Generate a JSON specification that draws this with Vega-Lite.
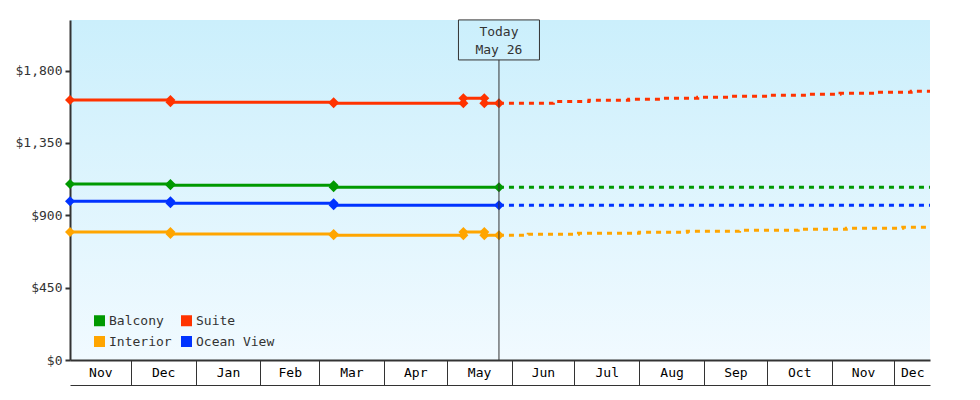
{
  "$schema": "https://vega.github.io/schema/vega-lite/v6.json",
  "description": "Cruise cabin price history and forecast",
  "width": 860,
  "height": 340,
  "autosize": {"type": "none"},
  "padding": {"left": 70, "top": 20, "right": 50, "bottom": 40},
  "background": "white",
  "config": {
    "font": "DejaVu Sans Mono",
    "view": {
      "stroke": null,
      "fill": {
        "gradient": "linear", "x1": 0, "y1": 0, "x2": 0, "y2": 1,
        "stops": [{"offset": 0, "color": "#cbeffc"}, {"offset": 1, "color": "#f1faff"}]
      }
    },
    "axis": {"grid": false, "title": null, "labelFont": "DejaVu Sans Mono", "labelFontSize": 13}
  },
  "datasets": {
    "past": [
      {"type": "Suite", "seq": 1, "date": "2024-11-02", "price": 1618},
      {"type": "Suite", "seq": 2, "date": "2024-12-20", "price": 1618},
      {"type": "Suite", "seq": 3, "date": "2024-12-20", "price": 1603},
      {"type": "Suite", "seq": 4, "date": "2025-03-08", "price": 1603},
      {"type": "Suite", "seq": 5, "date": "2025-03-08", "price": 1597},
      {"type": "Suite", "seq": 6, "date": "2025-05-09", "price": 1597},
      {"type": "Suite", "seq": 7, "date": "2025-05-09", "price": 1628},
      {"type": "Suite", "seq": 8, "date": "2025-05-19", "price": 1628},
      {"type": "Suite", "seq": 9, "date": "2025-05-19", "price": 1597},
      {"type": "Suite", "seq": 10, "date": "2025-05-26", "price": 1597},
      {"type": "Balcony", "seq": 1, "date": "2024-11-02", "price": 1095},
      {"type": "Balcony", "seq": 2, "date": "2024-12-20", "price": 1095},
      {"type": "Balcony", "seq": 3, "date": "2024-12-20", "price": 1087},
      {"type": "Balcony", "seq": 4, "date": "2025-03-08", "price": 1087},
      {"type": "Balcony", "seq": 5, "date": "2025-03-08", "price": 1075},
      {"type": "Balcony", "seq": 6, "date": "2025-05-26", "price": 1075},
      {"type": "Ocean View", "seq": 1, "date": "2024-11-02", "price": 987},
      {"type": "Ocean View", "seq": 2, "date": "2024-12-20", "price": 987},
      {"type": "Ocean View", "seq": 3, "date": "2024-12-20", "price": 975},
      {"type": "Ocean View", "seq": 4, "date": "2025-03-08", "price": 975},
      {"type": "Ocean View", "seq": 5, "date": "2025-03-08", "price": 963},
      {"type": "Ocean View", "seq": 6, "date": "2025-05-26", "price": 963},
      {"type": "Interior", "seq": 1, "date": "2024-11-02", "price": 796},
      {"type": "Interior", "seq": 2, "date": "2024-12-20", "price": 796},
      {"type": "Interior", "seq": 3, "date": "2024-12-20", "price": 784},
      {"type": "Interior", "seq": 4, "date": "2025-03-08", "price": 784},
      {"type": "Interior", "seq": 5, "date": "2025-03-08", "price": 776},
      {"type": "Interior", "seq": 6, "date": "2025-05-09", "price": 776},
      {"type": "Interior", "seq": 7, "date": "2025-05-09", "price": 796},
      {"type": "Interior", "seq": 8, "date": "2025-05-19", "price": 796},
      {"type": "Interior", "seq": 9, "date": "2025-05-19", "price": 776},
      {"type": "Interior", "seq": 10, "date": "2025-05-26", "price": 776}
    ],
    "forecast": [
      {"type": "Suite", "date": "2025-05-26", "price": 1597},
      {"type": "Suite", "date": "2025-06-21", "price": 1608},
      {"type": "Suite", "date": "2025-07-08", "price": 1616},
      {"type": "Suite", "date": "2025-07-27", "price": 1622},
      {"type": "Suite", "date": "2025-08-11", "price": 1628},
      {"type": "Suite", "date": "2025-08-29", "price": 1634},
      {"type": "Suite", "date": "2025-09-14", "price": 1640},
      {"type": "Suite", "date": "2025-10-02", "price": 1647},
      {"type": "Suite", "date": "2025-10-21", "price": 1653},
      {"type": "Suite", "date": "2025-11-05", "price": 1659},
      {"type": "Suite", "date": "2025-11-23", "price": 1665},
      {"type": "Suite", "date": "2025-12-09", "price": 1672},
      {"type": "Suite", "date": "2025-12-18", "price": 1672},
      {"type": "Balcony", "date": "2025-05-26", "price": 1075},
      {"type": "Balcony", "date": "2025-12-18", "price": 1075},
      {"type": "Ocean View", "date": "2025-05-26", "price": 963},
      {"type": "Ocean View", "date": "2025-12-18", "price": 963},
      {"type": "Interior", "date": "2025-05-26", "price": 776},
      {"type": "Interior", "date": "2025-06-09", "price": 782},
      {"type": "Interior", "date": "2025-07-03", "price": 788},
      {"type": "Interior", "date": "2025-08-01", "price": 794},
      {"type": "Interior", "date": "2025-08-24", "price": 801},
      {"type": "Interior", "date": "2025-09-18", "price": 807},
      {"type": "Interior", "date": "2025-10-16", "price": 813},
      {"type": "Interior", "date": "2025-11-08", "price": 819},
      {"type": "Interior", "date": "2025-12-05", "price": 826},
      {"type": "Interior", "date": "2025-12-18", "price": 826}
    ],
    "today": [
      {"date": "2025-05-26", "label": "Today\nMay 26"}
    ]
  },
  "resolve": {"axis": {"x": "independent"}},
  "layer": [
    {
      "data": {"name": "past"},
      "mark": {"type": "point", "shape": "diamond", "filled": true, "size": 100, "opacity": 1},
      "encoding": {
        "x": {
          "field": "date", "type": "temporal",
          "scale": {"type": "utc", "domain": [{"year": 2024, "month": 11, "date": 2, "utc": true}, {"year": 2025, "month": 12, "date": 18, "utc": true}]},
          "axis": {
            "orient": "bottom",
            "labels": false,
            "domainColor": "#333333", "domainWidth": 2,
            "tickColor": "#333333", "tickWidth": 1, "tickSize": 25,
            "values": [
              {"year": 2024, "month": 12, "date": 1, "utc": true},
              {"year": 2025, "month": 1, "date": 1, "utc": true},
              {"year": 2025, "month": 2, "date": 1, "utc": true},
              {"year": 2025, "month": 3, "date": 1, "utc": true},
              {"year": 2025, "month": 4, "date": 1, "utc": true},
              {"year": 2025, "month": 5, "date": 1, "utc": true},
              {"year": 2025, "month": 6, "date": 1, "utc": true},
              {"year": 2025, "month": 7, "date": 1, "utc": true},
              {"year": 2025, "month": 8, "date": 1, "utc": true},
              {"year": 2025, "month": 9, "date": 1, "utc": true},
              {"year": 2025, "month": 10, "date": 1, "utc": true},
              {"year": 2025, "month": 11, "date": 1, "utc": true},
              {"year": 2025, "month": 12, "date": 1, "utc": true}
            ]
          }
        },
        "y": {
          "field": "price", "type": "quantitative",
          "scale": {"domain": [0, 2115], "nice": false},
          "axis": {
            "values": [0, 450, 900, 1350, 1800], "format": "$,.0f",
            "domainColor": "#333333", "domainWidth": 2,
            "tickColor": "#333333", "tickWidth": 2, "tickSize": 5,
            "labelColor": "#333333", "labelPadding": 3
          }
        },
        "color": {
          "field": "type", "type": "nominal",
          "scale": {"domain": ["Balcony", "Suite", "Interior", "Ocean View"], "range": ["#009900", "#ff3300", "#ffa500", "#0033ff"]},
          "legend": {
            "title": null, "orient": "none", "direction": "horizontal", "legendX": 23, "legendY": 294,
            "columns": 2, "columnPadding": 8, "rowPadding": 7,
            "symbolType": "square", "symbolSize": 121, "symbolStrokeWidth": 0,
            "labelFont": "DejaVu Sans Mono", "labelFontSize": 13, "labelColor": "#333333", "labelOffset": 3,
            "encode": {"symbols": {"update": {"fill": {"scale": "color", "field": "value"}, "opacity": {"value": 1}}}}
          }
        },
        "order": {"field": "seq"}
      }
    },
    {
      "data": {"name": "past"},
      "mark": {"type": "line", "strokeWidth": 3},
      "encoding": {
        "x": {"field": "date", "type": "temporal", "axis": null},
        "y": {"field": "price", "type": "quantitative"},
        "color": {"field": "type", "type": "nominal"},
        "order": {"field": "seq"}
      }
    },
    {
      "data": {"name": "forecast"},
      "mark": {"type": "line", "strokeWidth": 3, "strokeDash": [5, 5], "interpolate": "step-after"},
      "encoding": {
        "x": {
          "field": "date", "type": "temporal",
          "axis": {
            "orient": "bottom", "offset": 25,
            "format": "%b", "ticks": false, "tickSize": 0,
            "domainColor": "#333333", "domainWidth": 1,
            "labelColor": "#000000", "labelPadding": -19,
            "labelOverlap": false, "labelFlush": false, "labelBound": false,
            "values": [
              {"year": 2024, "month": 11, "date": 16, "hours": 12, "utc": true},
              {"year": 2024, "month": 12, "date": 16, "hours": 12, "utc": true},
              {"year": 2025, "month": 1, "date": 16, "hours": 12, "utc": true},
              {"year": 2025, "month": 2, "date": 15, "utc": true},
              {"year": 2025, "month": 3, "date": 16, "hours": 12, "utc": true},
              {"year": 2025, "month": 4, "date": 16, "utc": true},
              {"year": 2025, "month": 5, "date": 16, "hours": 12, "utc": true},
              {"year": 2025, "month": 6, "date": 16, "utc": true},
              {"year": 2025, "month": 7, "date": 16, "hours": 12, "utc": true},
              {"year": 2025, "month": 8, "date": 16, "hours": 12, "utc": true},
              {"year": 2025, "month": 9, "date": 16, "utc": true},
              {"year": 2025, "month": 10, "date": 16, "hours": 12, "utc": true},
              {"year": 2025, "month": 11, "date": 16, "utc": true},
              {"year": 2025, "month": 12, "date": 9, "hours": 12, "utc": true}
            ]
          }
        },
        "y": {"field": "price", "type": "quantitative"},
        "color": {"field": "type", "type": "nominal"}
      }
    },
    {
      "data": {"name": "today"},
      "mark": {"type": "rule", "color": "#333333", "strokeWidth": 1},
      "encoding": {
        "x": {"field": "date", "type": "temporal", "axis": null},
        "y": {"datum": 1867},
        "y2": {"datum": 0}
      }
    },
    {
      "data": {"name": "today"},
      "mark": {"type": "point", "shape": "M-1,-0.494H1V0.494H-1Z", "size": 6561, "filled": false, "stroke": "#333333", "strokeWidth": 1, "opacity": 1},
      "encoding": {
        "x": {"field": "date", "type": "temporal", "axis": null},
        "y": {"datum": 1991}
      }
    },
    {
      "data": {"name": "today"},
      "mark": {"type": "text", "lineBreak": "\n", "lineHeight": 18, "fontSize": 13, "color": "#333333", "baseline": "middle", "align": "center", "dy": -8},
      "encoding": {
        "x": {"field": "date", "type": "temporal", "axis": null},
        "y": {"datum": 1991},
        "text": {"field": "label"}
      }
    }
  ]
}
